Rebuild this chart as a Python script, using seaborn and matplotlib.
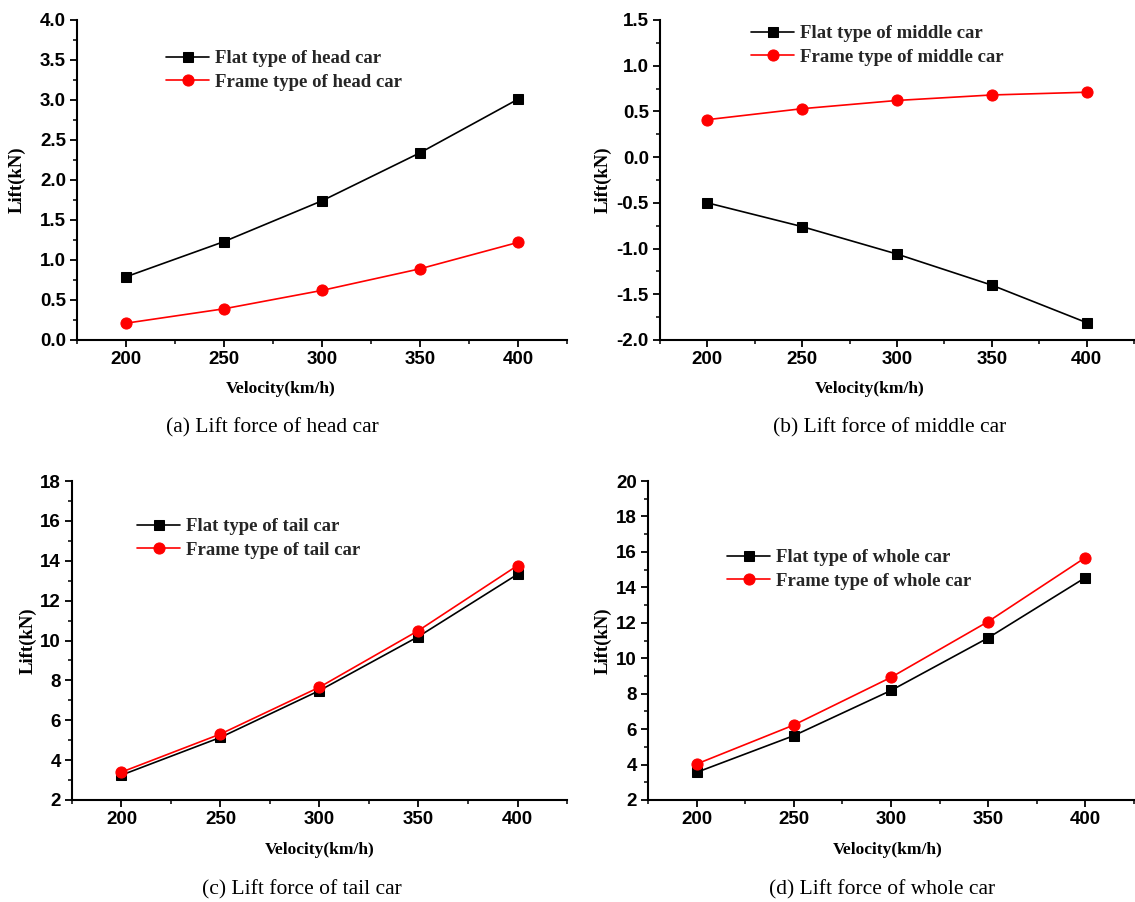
import numpy as np
import pandas as pd
import matplotlib
matplotlib.use("Agg")
import matplotlib.pyplot as plt
from matplotlib.ticker import MultipleLocator, AutoMinorLocator, FormatStrFormatter
import seaborn as sns

velocity = [200, 250, 300, 350, 400]

head_flat = [0.79, 1.23, 1.74, 2.34, 3.01]
head_frame = [0.21, 0.39, 0.62, 0.89, 1.22]

middle_flat = [-0.50, -0.76, -1.06, -1.40, -1.81]
middle_frame = [0.41, 0.53, 0.62, 0.68, 0.71]

tail_flat = [3.25, 5.14, 7.49, 10.20, 13.32]
tail_frame = [3.40, 5.31, 7.66, 10.50, 13.76]

whole_flat = [3.56, 5.63, 8.18, 11.15, 14.55]
whole_frame = [4.03, 6.23, 8.92, 12.07, 15.68]

labels_flat = ["Flat type of head car", "Flat type of middle car",
               "Flat type of tail car", "Flat type of whole car"]
labels_frame = ["Frame type of head car", "Frame type of middle car",
                "Frame type of tail car", "Frame type of whole car"]
captions = ["(a) Lift force of head car", "(b) Lift force of middle car",
            "(c) Lift force of tail car", "(d) Lift force of whole car"]
xlabel = "Velocity(km/h)"
ylabel = "Lift(kN)"

sns.set_theme(style="ticks")
plt.rcParams["font.family"] = ["Liberation Serif", "DejaVu Serif"]
plt.rcParams["axes.unicode_minus"] = False

W, H = 1135, 902
fig = plt.figure(figsize=(W / 100, H / 100), dpi=100)

def px_axes(l, t, r, b):
    return fig.add_axes([l / W, 1 - b / H, (r - l) / W, (b - t) / H])

panels = [
    dict(box=(77, 20, 567, 340), flat=head_flat, frame=head_frame,
         ylim=(0, 4), ystep=0.5, fmt="%.1f", leg=(166, 50),
         ylab=-0.105, xlab=(0.415, -0.128), cap=(272, 428)),
    dict(box=(660, 20, 1134, 340), flat=middle_flat, frame=middle_frame,
         ylim=(-2, 1.5), ystep=0.5, fmt="%.1f", leg=(751, 25),
         ylab=-0.101, xlab=(0.443, -0.128), cap=(890, 428)),
    dict(box=(72, 481, 567, 800), flat=tail_flat, frame=tail_frame,
         ylim=(2, 18), ystep=2, fmt="%d", leg=(137, 518),
         ylab=-0.072, xlab=(0.50, -0.132), cap=(302, 890)),
    dict(box=(648, 481, 1134, 800), flat=whole_flat, frame=whole_frame,
         ylim=(2, 20), ystep=2, fmt="%d", leg=(727, 549),
         ylab=-0.075, xlab=(0.494, -0.132), cap=(882, 890)),
]

tick_font = dict(family="Liberation Sans", weight="bold", size=13.5)

for i, p in enumerate(panels):
    ax = px_axes(*p["box"])
    df = pd.DataFrame({"v": velocity, "flat": p["flat"], "frame": p["frame"]})
    sns.lineplot(data=df, x="v", y="flat", ax=ax, color="black", marker="s",
                 markersize=7.5, markeredgecolor="black", linewidth=1.2,
                 label=labels_flat[i])
    sns.lineplot(data=df, x="v", y="frame", ax=ax, color="red", marker="o",
                 markersize=8, markeredgecolor="red", linewidth=1.2,
                 label=labels_frame[i])
    ax.set_xlim(175, 425)
    ax.set_ylim(*p["ylim"])
    ax.xaxis.set_major_locator(MultipleLocator(50))
    ax.xaxis.set_minor_locator(AutoMinorLocator(2))
    ax.yaxis.set_major_locator(MultipleLocator(p["ystep"]))
    ax.yaxis.set_minor_locator(AutoMinorLocator(2))
    ax.yaxis.set_major_formatter(FormatStrFormatter(p["fmt"]))
    for s in ["top", "right"]:
        ax.spines[s].set_visible(False)
    for s in ["left", "bottom"]:
        ax.spines[s].set_linewidth(1.5)
        ax.spines[s].set_color("black")
    ax.tick_params(which="major", direction="out", length=5, width=1.3,
                   color="black", pad=3)
    ax.tick_params(which="minor", direction="out", length=3, width=1.1,
                   color="black")
    for lab in ax.get_xticklabels() + ax.get_yticklabels():
        lab.set_fontproperties(tick_font)
        lab.set_color("black")
    ax.set_xlabel(xlabel, fontsize=12.5, fontweight="bold", color="black")
    ax.set_ylabel(ylabel, fontsize=13.5, fontweight="bold", color="black")
    ax.yaxis.set_label_coords(p["ylab"], 0.5)
    ax.xaxis.set_label_coords(*p["xlab"])
    lx, ly = p["leg"]
    ax.legend(loc="upper left", bbox_to_anchor=(lx / W, 1 - ly / H),
              bbox_transform=fig.transFigure, frameon=False, borderpad=0,
              borderaxespad=0, handlelength=2.3, handletextpad=0.3,
              labelspacing=0.36, prop=dict(family="Liberation Serif",
                                            weight="bold", size=13.5))
    ax.grid(False)
    cx, cy = p["cap"]
    fig.text(cx / W, 1 - cy / H, captions[i], ha="center", va="center",
             fontsize=15.5, color="black")

fig.savefig("out.png", dpi=100, facecolor="white")
